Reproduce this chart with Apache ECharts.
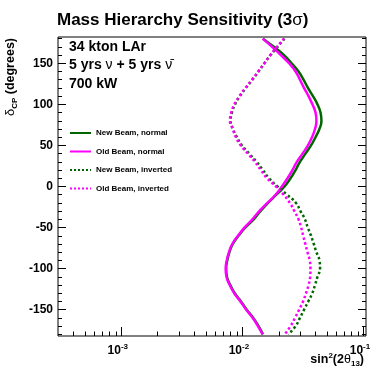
<!DOCTYPE html>
<html>
<head>
<meta charset="utf-8">
<script src="https://cdn.jsdelivr.net/npm/echarts@6/dist/echarts.min.js"></script>
<style>
html, body { margin: 0; padding: 0; background: #fff; }
#chart { width: 385px; height: 374px; }
</style>
</head>
<body>
<div id="chart"></div>
<script>
// δCP 取值（度），从上到下
var deltaCP = [180, 170, 160, 150, 140, 130, 120, 110, 100, 90, 80, 70, 60, 50, 40, 30, 20, 10, 0,
  -10, -20, -30, -40, -50, -60, -70, -80, -90, -100, -110, -120, -130, -140, -150, -160, -170, -180];

// 各曲线的 sin²(2θ13) 灵敏度
var newNormal = [0.0148, 0.0182, 0.0221, 0.0255, 0.0291, 0.0320, 0.0348, 0.0383, 0.0417, 0.0442,
  0.0450, 0.0433, 0.0402, 0.0369, 0.0332, 0.0299, 0.0275, 0.0250, 0.0223,
  0.0191, 0.0163, 0.0141, 0.0124, 0.01055, 0.00929, 0.00833, 0.00782, 0.00750,
  0.00735, 0.00746, 0.00795, 0.00865, 0.00974, 0.01087, 0.0123, 0.0136, 0.0148];
var oldNormal = [0.0147, 0.0176, 0.0208, 0.0243, 0.0275, 0.0299, 0.0323, 0.0352, 0.0379, 0.0402,
  0.0409, 0.0398, 0.0376, 0.0348, 0.0314, 0.0282, 0.0259, 0.0236, 0.0212,
  0.0188, 0.0161, 0.0138, 0.0121, 0.0104, 0.0092, 0.00825, 0.00775, 0.00743,
  0.00728, 0.00739, 0.00787, 0.00857, 0.00965, 0.01077, 0.0122, 0.01345, 0.0147];
var newInverted = [0.0223, 0.0195, 0.0171, 0.0152, 0.0136, 0.0121, 0.0107, 0.00955, 0.00869, 0.0082,
  0.0080, 0.00836, 0.00902, 0.00992, 0.0114, 0.0131, 0.0148, 0.0166, 0.0195,
  0.0234, 0.0277, 0.0302, 0.0329, 0.0347, 0.0369, 0.0389, 0.0409, 0.0433,
  0.0438, 0.0417, 0.0398, 0.0378, 0.0350, 0.0323, 0.0299, 0.0275, 0.0240];
var oldInverted = [0.0221, 0.0193, 0.0170, 0.0152, 0.0135, 0.0120, 0.0106, 0.00946, 0.0086, 0.0081,
  0.0079, 0.00832, 0.00885, 0.0097, 0.0111, 0.0127, 0.0142, 0.0160, 0.0190,
  0.0219, 0.0247, 0.0269, 0.0291, 0.0306, 0.0318, 0.0331, 0.0345, 0.0360,
  0.0365, 0.0363, 0.0352, 0.0335, 0.0317, 0.0294, 0.0272, 0.0250, 0.0223];

var seriesNames = ['New Beam, normal', 'Old Beam, normal', 'New Beam, inverted', 'Old Beam, inverted'];

// 刻度
var xMajorTicks = [1e-3, 1e-2, 1e-1];
var xMinorTicks = [4e-4, 5e-4, 6e-4, 7e-4, 8e-4, 9e-4,
  2e-3, 3e-3, 4e-3, 5e-3, 6e-3, 7e-3, 8e-3, 9e-3,
  2e-2, 3e-2, 4e-2, 5e-2, 6e-2, 7e-2, 8e-2, 9e-2];
var yMajorTicks = [-150, -100, -50, 0, 50, 100, 150];
var yMinorTicks = [-180, -170, -160, -140, -130, -120, -110, -90, -80, -70, -60, -40, -30, -20, -10,
  10, 20, 30, 40, 60, 70, 80, 90, 110, 120, 130, 140, 160, 170, 180];

var FONT = '"Liberation Sans", Arial, Helvetica, sans-serif';
var GREEN = '#006600';
var MAGENTA = '#ff00ff';

//把数值和 δCP 配成 [x, y]
function toPairs(vals) {
  return vals.map(function (v, i) { return [v, deltaCP[i]]; });
}

function makeSeries(name, vals, color, type) {
  return {
    name: name,
    type: 'line',
    data: toPairs(vals),
    smooth: true,
    symbol: 'none',
    silent: true,
    lineStyle: { color: color, width: 2.5, type: type },
    itemStyle: { color: color }
  };
}

function xAxisDef(ticks, len, showLabel) {
  return {
    type: 'log',
    min: 3e-4,
    max: 0.105,
    position: 'bottom',
    axisLine: { show: false, onZero: false },
    splitLine: { show: false },
    axisTick: { show: true, inside: true, length: len, customValues: ticks, lineStyle: { color: '#000', width: 1 } },
    axisLabel: {
      show: showLabel,
      customValues: ticks,
      margin: 7,
      padding: [0, 7, 0, 0],
      formatter: function (v) {
        return '{b|10}{s|' + Math.round(Math.log10(v)) + '}';
      },
      rich: {
        b: { fontFamily: FONT, fontWeight: 'bold', fontSize: 12, color: '#000', lineHeight: 16, verticalAlign: 'middle' },
        s: { fontFamily: FONT, fontWeight: 'bold', fontSize: 8, color: '#000', lineHeight: 8, verticalAlign: 'top' }
      }
    }
  };
}

function yAxisDef(pos, ticks, len, showLabel) {
  return {
    type: 'value',
    min: -182,
    max: 182,
    position: pos,
    axisLine: { show: false, onZero: false },
    splitLine: { show: false },
    axisTick: { show: true, inside: true, length: len, customValues: ticks, lineStyle: { color: '#000', width: 1 } },
    axisLabel: {
      show: showLabel,
      customValues: ticks,
      margin: 5,
      fontFamily: FONT,
      fontWeight: 'bold',
      fontSize: 12,
      color: '#000'
    }
  };
}

var option = {
  animation: false,
  title: {
    text: '{b|Mass Hierarchy Sensitivity (3}{g|σ}{b|)}',
    left: 57,
    top: 12,
    padding: 0,
    textStyle: {
      rich: {
        b: { fontFamily: FONT, fontWeight: 'bold', fontSize: 17, color: '#000' },
        g: { fontFamily: FONT, fontWeight: 'normal', fontSize: 17, color: '#000' }
      }
    }
  },
  grid: { left: 58, top: 37, width: 308, height: 299, show: true, borderColor: '#000', borderWidth: 1 },
  legend: {
    orient: 'vertical',
    left: 69,
    top: 129,
    padding: 0,
    itemWidth: 21,
    itemHeight: 10,
    itemGap: 10.5,
    data: seriesNames,
    itemStyle: { opacity: 0 },
    textStyle: { fontFamily: FONT, fontWeight: 'bold', fontSize: 8, color: '#000' }
  },
  xAxis: [xAxisDef(xMajorTicks, 9, true), xAxisDef(xMinorTicks, 4.5, false)],
  yAxis: [
    yAxisDef('left', yMajorTicks, 8, true),
    yAxisDef('left', yMinorTicks, 4, false),
    yAxisDef('right', yMajorTicks, 8, false),
    yAxisDef('right', yMinorTicks, 4, false)
  ],
  series: [
    makeSeries(seriesNames[0], newNormal, GREEN, 'solid'),
    makeSeries(seriesNames[1], oldNormal, MAGENTA, 'solid'),
    makeSeries(seriesNames[2], newInverted, GREEN, 'dotted'),
    makeSeries(seriesNames[3], oldInverted, MAGENTA, 'dotted')
  ],
  graphic: [
    {
      type: 'text', x: 69, y: 46.7,
      style: { text: '34 kton LAr', font: 'bold 14px ' + FONT, fill: '#000', verticalAlign: 'middle' }
    },
    {
      type: 'text', x: 69, y: 65.5,
      style: {
        text: '{b|5 yrs }{g|ν}{b| + 5 yrs }{g|ν\u0304}',
        verticalAlign: 'middle',
        rich: {
          b: { fontFamily: FONT, fontWeight: 'bold', fontSize: 14, fill: '#000' },
          g: { fontFamily: FONT, fontWeight: 'normal', fontSize: 14, fill: '#000' }
        }
      }
    },
    {
      type: 'text', x: 69, y: 83.8,
      style: { text: '700 kW', font: 'bold 14px ' + FONT, fill: '#000', verticalAlign: 'middle' }
    },
    {
      // y 轴标题
      type: 'text', x: 10.5, y: 38, rotation: Math.PI / 2,
      style: {
        text: '{d|δ}{c|CP}{t| (degrees)}',
        align: 'right',
        verticalAlign: 'middle',
        rich: {
          d: { fontFamily: FONT, fontWeight: 'normal', fontSize: 13, fill: '#000', lineHeight: 16, verticalAlign: 'middle' },
          c: { fontFamily: FONT, fontWeight: 'bold', fontSize: 8, fill: '#000', lineHeight: 8, verticalAlign: 'bottom' },
          t: { fontFamily: FONT, fontWeight: 'bold', fontSize: 12.5, fill: '#000', lineHeight: 16, verticalAlign: 'middle' }
        }
      }
    },
    {
      // x 轴标题
      type: 'text', x: 364, y: 360,
      style: {
        text: '{b|sin}{s|2}{b|(2}{g|θ}{u|13}{b|)}',
        align: 'right',
        verticalAlign: 'middle',
        rich: {
          b: { fontFamily: FONT, fontWeight: 'bold', fontSize: 12.5, fill: '#000', lineHeight: 16, verticalAlign: 'middle' },
          g: { fontFamily: FONT, fontWeight: 'normal', fontSize: 12.5, fill: '#000', lineHeight: 16, verticalAlign: 'middle' },
          s: { fontFamily: FONT, fontWeight: 'bold', fontSize: 8, fill: '#000', lineHeight: 8, verticalAlign: 'top' },
          u: { fontFamily: FONT, fontWeight: 'bold', fontSize: 8, fill: '#000', lineHeight: 8, verticalAlign: 'bottom' }
        }
      }
    }
  ]
};

var chart = echarts.init(document.getElementById('chart'));
chart.setOption(option);
</script>
</body>
</html>
